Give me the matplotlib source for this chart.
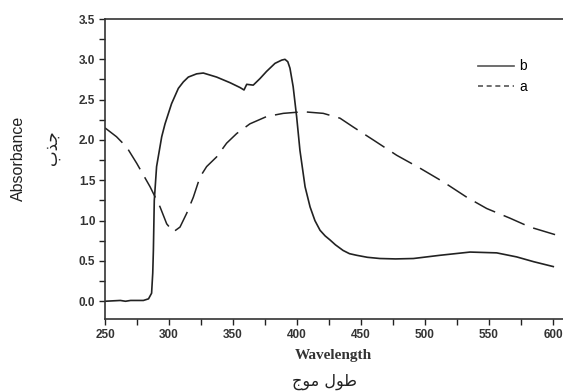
import matplotlib
matplotlib.use("Agg")
import matplotlib.pyplot as plt
from matplotlib.lines import Line2D
from matplotlib.ticker import MultipleLocator

# curve b (solid)
wl_b = [250, 262, 266, 270, 280, 284, 286.4, 287.3, 287.8, 288.5, 290.3, 294.3, 296.9, 302,
        307.3, 311.2, 315.1, 321.6, 326.8, 337.2, 347.7, 355.5, 358.6, 360.7, 365.8, 371,
        376.2, 382.8, 388, 390.6, 392.8, 394.5, 397, 399.7, 402.3, 406.3, 410.2, 414, 418,
        422, 425.8, 430, 436, 441, 446.6, 455, 464.8, 477, 490.9, 511.7, 535.2, 556, 571.6,
        585, 600.2]
abs_b = [0.0, 0.01, 0.0, 0.01, 0.01, 0.03, 0.1, 0.35, 0.63, 1.25, 1.67, 2.04, 2.2, 2.45,
         2.64, 2.72, 2.78, 2.82, 2.83, 2.78, 2.71, 2.65, 2.62, 2.69, 2.68, 2.76,
         2.85, 2.95, 2.99, 3.0, 2.97, 2.89, 2.66, 2.29, 1.87, 1.42, 1.17, 1.0, 0.88,
         0.81, 0.76, 0.70, 0.63, 0.59, 0.57, 0.545, 0.53, 0.525, 0.53, 0.57, 0.61, 0.60, 0.55,
         0.49, 0.43]

# curve a (dashed)
wl_a = [250, 259, 267, 274.8, 285.2, 293, 298.2, 303.4, 308.6, 313.8, 319, 324.2, 329.4,
        337.2, 345, 352.9, 363.2, 376.2, 389.3, 404.9, 420.5, 433.6, 444, 459.6, 477.9,
        496.1, 514.3, 532.6, 548.2, 566.4, 582, 602.9]
abs_a = [2.15, 2.04, 1.91, 1.71, 1.42, 1.17, 0.96, 0.86, 0.92, 1.09, 1.29, 1.54, 1.67,
         1.79, 1.96, 2.08, 2.2, 2.29, 2.33, 2.35, 2.33, 2.27, 2.16, 2.0, 1.81,
         1.65, 1.48, 1.29, 1.15, 1.03, 0.92, 0.82]

x_ticks = [250, 300, 350, 400, 450, 500, 550, 600]
y_ticks = [0.0, 0.5, 1.0, 1.5, 2.0, 2.5, 3.0, 3.5]

ink = "#222222"
fig = plt.figure(figsize=(5.63, 3.92), dpi=100)
ax = fig.add_axes([105 / 563, 1 - 319 / 392, 1 - 105 / 563, 300 / 392])

ax.plot(wl_b, abs_b, color=ink, lw=1.2)
ax.plot(wl_a, abs_a, color=ink, lw=1.1, dashes=(15, 6))

ax.set_xlim(250, 607.8)
ax.set_ylim(-0.22, 3.5)
ax.set_xticks(x_ticks)
ax.set_yticks(y_ticks)
ax.xaxis.set_minor_locator(MultipleLocator(25))
ax.yaxis.set_minor_locator(MultipleLocator(0.25))
ax.set_yticklabels([f"{v:.1f}" for v in y_ticks])
ax.tick_params(which="both", direction="out", length=4, width=1, color=ink,
               labelsize=8.5, labelcolor="#333333", pad=3)
for lab in ax.get_xticklabels() + ax.get_yticklabels():
    lab.set_family("Liberation Sans")
    lab.set_fontweight("bold")
ax.spines["right"].set_visible(False)
for s in ("left", "bottom", "top"):
    ax.spines[s].set_linewidth(1.2)
    ax.spines[s].set_color("#333333")

# legend drawn by hand
handles = [Line2D([], [], color="#555555", lw=1.2),
           Line2D([], [], color="#555555", lw=1.2, dashes=(3, 2.2))]
leg = ax.legend(handles, ["b", "a"], loc="upper left", bbox_to_anchor=(0.787, 0.907),
                frameon=False, handlelength=2.6, handletextpad=0.4, labelspacing=0.45,
                prop={"family": "Liberation Sans", "size": 10})

fig.text(18 / 563, 1 - 158 / 392, "Absorbance", rotation=90, ha="center", va="center",
         family="Liberation Sans", fontsize=11.5, color=ink)
# Arabic in presentation forms, visual order
fig.text(52 / 563, 1 - 148 / 392, "\ufe8f\ufeac\ufe9f", rotation=90, ha="center",
         va="center", family="DejaVu Sans", fontsize=12, color=ink)
fig.text(333 / 563, 1 - 355 / 392, "Wavelength", ha="center", va="center",
         family="Liberation Serif", fontweight="bold", fontsize=11, color="#333333")
fig.text(324 / 563, 1 - 382 / 392, "\ufe9d\ufeee\ufee3 \ufedd\ufeee\ufec3", ha="center",
         va="center", family="DejaVu Sans", fontsize=11.5, color=ink)

fig.savefig("out.png", dpi=100)
